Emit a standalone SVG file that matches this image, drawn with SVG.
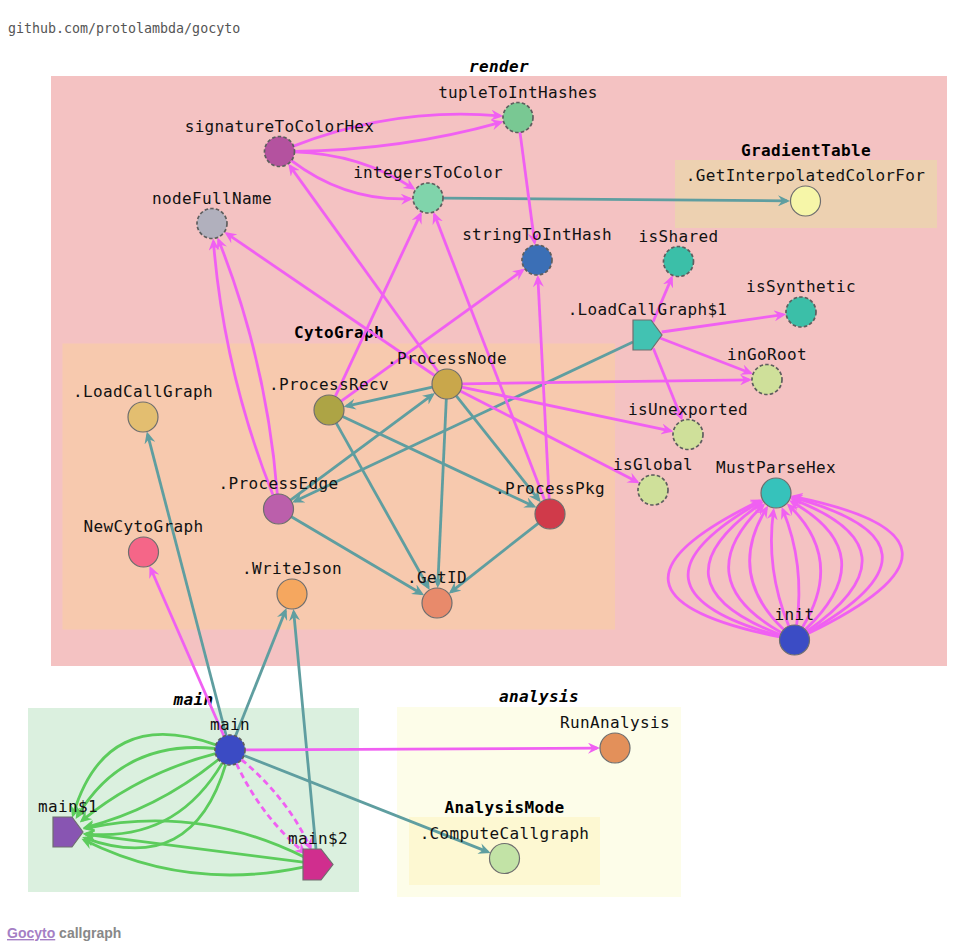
<svg xmlns="http://www.w3.org/2000/svg" width="969" height="952" viewBox="0 0 969 952">
<style>
.lbl{font-family:"DejaVu Sans Mono",monospace;font-size:16px;letter-spacing:0.35px;text-anchor:middle;fill:#111}
.clbl{font-family:"DejaVu Sans Mono",monospace;font-size:16px;letter-spacing:0.35px;font-weight:bold;text-anchor:middle;fill:#000}
.it{font-style:italic}
.solid{stroke:#6e6e6e;stroke-width:1.2}
.dash{stroke:#5e5e5e;stroke-width:1.7;stroke-dasharray:3.5 2.2}
.e{fill:none;stroke-width:2.8}
.mg{stroke:#f060f2;marker-end:url(#am)}
.tl{stroke:#5f9ea0;marker-end:url(#at)}
.gr{stroke:#5ccc5c;marker-end:url(#ag)}
.dsh{stroke-dasharray:6 4}
</style>
<defs>
<marker id="am" viewBox="0 0 12 11" refX="9" refY="5.5" markerWidth="12" markerHeight="11" markerUnits="userSpaceOnUse" orient="auto"><path d="M0,0 L12,5.5 L0,11 L4,5.5 z" fill="#f060f2"/></marker>
<marker id="at" viewBox="0 0 12 11" refX="9" refY="5.5" markerWidth="12" markerHeight="11" markerUnits="userSpaceOnUse" orient="auto"><path d="M0,0 L12,5.5 L0,11 L4,5.5 z" fill="#5f9ea0"/></marker>
<marker id="ag" viewBox="0 0 12 11" refX="9" refY="5.5" markerWidth="12" markerHeight="11" markerUnits="userSpaceOnUse" orient="auto"><path d="M0,0 L12,5.5 L0,11 L4,5.5 z" fill="#5ccc5c"/></marker>
</defs>
<rect width="969" height="952" fill="#fff"/>
<text x="8" y="33" font-family="'DejaVu Sans Mono',monospace" font-size="13.3" fill="#555">github.com/protolambda/gocyto</text>

<g id="clusters">
<g id="c-render"><rect x="51" y="76" width="896" height="590" fill="#f4c2c2"/><text x="499" y="72" class="clbl it">render</text></g>
<g id="c-GradientTable"><rect x="675" y="160" width="262" height="68" fill="#edd1b1"/><text x="806" y="156" class="clbl">GradientTable</text></g>
<g id="c-CytoGraph"><rect x="62.5" y="343.5" width="552.5" height="286" fill="#f7c9ae"/><text x="339" y="338" class="clbl">CytoGraph</text></g>
<g id="c-main"><rect x="28" y="708" width="331" height="184" fill="#dbf0df"/><text x="193.5" y="705" class="clbl it">main</text></g>
<g id="c-analysis"><rect x="397" y="707" width="284" height="190" fill="#fdfde9"/><text x="539" y="702" class="clbl it">analysis</text></g>
<g id="c-AnalysisMode"><rect x="409" y="817" width="191" height="68" fill="#fdf8d2"/><text x="504.5" y="813" class="clbl">AnalysisMode</text></g>
</g>

<g id="connectors">
<path class="e tl" d="M443,198.1 L787,200.9"/>
<path class="e tl" d="M432.3,387.2 L346.6,406.1"/>
<path class="e tl" d="M290.5,500.1 L432.5,394.7"/>
<path class="e tl" d="M633,342 L294.8,501.3"/>
<path class="e tl" d="M342.6,416.4 L533.7,506.3"/>
<path class="e tl" d="M456.3,395.8 L538.8,499.9"/>
<path class="e tl" d="M336.3,423.1 L428.2,587.3"/>
<path class="e tl" d="M446.3,399 L437.8,585"/>
<path class="e tl" d="M538.2,523.3 L451.1,591.9"/>
<path class="e tl" d="M291.4,516.7 L421.5,593.8"/>
<path class="e tl" d="M226.2,735.5 L147.6,434.4"/>
<path class="e tl" d="M235.5,736.1 L285.4,610.7"/>
<path class="e tl" d="M316,849 L293.7,611.9"/>
<path class="e tl" d="M244,755.5 L487.8,851.9"/>

<path class="e mg" d="M520,132.4 L534.6,242.2"/>
<path class="e mg" d="M434.6,375.5 L226.9,233.7"/>
<path class="e mg" d="M438.2,371.8 L290,166.1"/>
<path class="e mg" d="M335.3,396.4 L420.4,214.3"/>
<path class="e mg" d="M544.6,500 L434.5,214.8"/>
<path class="e mg" d="M341.2,401.2 L522.4,270.5"/>
<path class="e mg" d="M549.2,499 L537.9,278"/>
<path class="e mg" d="M462,383.8 L749,379.8"/>
<path class="e mg" d="M461.7,387.1 L670.4,430.8"/>
<path class="e mg" d="M460.3,390.9 L637,481.8"/>
<path class="e mg" d="M653,322 L671.5,278.1"/>
<path class="e mg" d="M661.7,332 L783.2,314.6"/>
<path class="e mg" d="M660,338 L750.2,373"/>
<path class="e mg" d="M653.3,348.3 L681.3,417.8"/>
<path class="e mg" d="M224,736.3 L150.7,568.5"/>
<path class="e mg" d="M245,749.9 L597,748.1"/>

<path class="e mg" d="M293.5,146.1 Q394.8,106.8 500.1,115.9"/>
<path class="e mg" d="M294.5,151.4 Q401,150.3 500.7,122.4"/>
<path class="e mg" d="M294.5,151.9 Q360.3,153.8 412.9,188.2"/>
<path class="e mg" d="M291.5,160.6 Q345.4,201.5 410,198.8"/>
<path class="e mg" d="M273,495.1 Q223.8,371.2 213.4,241.4"/>
<path class="e mg" d="M277.3,494 Q266.7,361.3 218.6,240.2"/>

<path class="e mg" d="M796.6,625.1 Q805.09,564 782.8,509.7"/>
<path class="e mg" d="M788.8,626.1 Q765.41,569 773.5,510.8"/>
<path class="e mg" d="M802.4,627.3 Q844.77,559 789,505.5"/>
<path class="e mg" d="M783.7,629.6 Q725.73,574 766.5,508.3"/>
<path class="e mg" d="M805.3,629.6 Q884.45,554 791.7,501.8"/>
<path class="e mg" d="M781.4,632.6 Q686.05,579 763,505.4"/>
<path class="e mg" d="M806.8,631.4 Q924.13,549 792.8,499.4"/>
<path class="e mg" d="M780.5,634.7 Q646.37,584 761.3,503.3"/>
<path class="e mg" d="M807.6,632.6 Q963.81,544 793.4,497.7"/>
<path class="e mg" d="M780,636.1 Q606.69,589 760.3,501.9"/>
<path class="e mg" d="M808,633.5 Q1003.49,539 793.6,496.6"/>
<path class="e mg" d="M779.8,637 Q567.01,594 759.8,500.8"/>

<path class="e mg dsh" d="M241.5,759.6 Q286.7,797.2 310.4,847.7"/>
<path class="e mg dsh" d="M236.4,763.6 Q261.3,816.8 304.2,852.5"/>

<path class="e gr" d="M215.9,744.9 Q105.6,705.4 73.1,814.8"/>
<path class="e gr" d="M215.1,748.5 Q122.8,739.3 77.2,816.5"/>
<path class="e gr" d="M215.5,753.7 Q140,773.2 82,820.6"/>
<path class="e gr" d="M218.4,759.5 Q158,808.8 85.4,827.5"/>
<path class="e gr" d="M222.4,762.9 Q175.2,842.7 85.9,833.8"/>
<path class="e gr" d="M225.7,764.4 Q192.4,876.6 84.9,838.1"/>
<path class="e gr" d="M304.6,857.3 Q198.6,804.4 85.6,828.3"/>
<path class="e gr" d="M303.1,862.1 L85.9,834.3"/>
<path class="e gr" d="M303.3,867.1 Q187.4,891.6 84.1,840"/>
</g>

<g id="nodes">
<g id="n-tupleToIntHashes"><circle cx="518" cy="117.5" r="15" class="dash" fill="#79c893"/><text x="518" y="97.5" class="lbl">tupleToIntHashes</text></g>
<g id="n-signatureToColorHex"><circle cx="279.5" cy="151.5" r="15" class="dash" fill="#b4529f"/><text x="279.5" y="131.5" class="lbl">signatureToColorHex</text></g>
<g id="n-integersToColor"><circle cx="428" cy="198" r="15" class="dash" fill="#80d4ab"/><text x="428" y="178" class="lbl">integersToColor</text></g>
<g id="n-nodeFullName"><circle cx="212" cy="223.5" r="15" class="dash" fill="#b1b0bd"/><text x="212" y="203.5" class="lbl">nodeFullName</text></g>
<g id="n-stringToIntHash"><circle cx="537" cy="260" r="15" class="dash" fill="#3b6fb6"/><text x="537" y="240" class="lbl">stringToIntHash</text></g>
<g id="n-GetInterpolatedColorFor"><circle cx="805.5" cy="201" r="15" class="solid" fill="#f6f6a8"/><text x="805.5" y="181" class="lbl">.GetInterpolatedColorFor</text></g>
<g id="n-isShared"><circle cx="678.5" cy="261.5" r="15" class="dash" fill="#3bbfa8"/><text x="678.5" y="241.5" class="lbl">isShared</text></g>
<g id="n-isSynthetic"><circle cx="801" cy="312" r="15" class="dash" fill="#3bbfa8"/><text x="801" y="292" class="lbl">isSynthetic</text></g>
<g id="n-LoadCallGraph1"><polygon points="633,320 651,320 662,335 651,350 633,350" class="solid" fill="#42c2b2"/><text x="647.5" y="315" class="lbl">.LoadCallGraph$1</text></g>
<g id="n-inGoRoot"><circle cx="767" cy="379.5" r="15" class="dash" fill="#cfe09a"/><text x="767" y="359.5" class="lbl">inGoRoot</text></g>
<g id="n-isUnexported"><circle cx="688" cy="434.5" r="15" class="dash" fill="#cfe09a"/><text x="688" y="414.5" class="lbl">isUnexported</text></g>
<g id="n-isGlobal"><circle cx="653" cy="490" r="15" class="dash" fill="#cfe09a"/><text x="653" y="470" class="lbl">isGlobal</text></g>
<g id="n-MustParseHex"><circle cx="776" cy="493" r="15" class="solid" fill="#36c2bb"/><text x="776" y="473" class="lbl">MustParseHex</text></g>
<g id="n-init"><circle cx="794.5" cy="640" r="15" class="solid" fill="#3b4cc5"/><text x="794.5" y="620" class="lbl">init</text></g>
<g id="n-ProcessNode"><circle cx="447" cy="384" r="15" class="solid" fill="#c9a74b"/><text x="447" y="364" class="lbl">.ProcessNode</text></g>
<g id="n-ProcessRecv"><circle cx="329" cy="410" r="15" class="solid" fill="#ada445"/><text x="329" y="390" class="lbl">.ProcessRecv</text></g>
<g id="n-LoadCallGraph"><circle cx="143" cy="417" r="15" class="solid" fill="#e3be70"/><text x="143" y="397" class="lbl">.LoadCallGraph</text></g>
<g id="n-ProcessEdge"><circle cx="278.5" cy="509" r="15" class="solid" fill="#bb5fab"/><text x="278.5" y="489" class="lbl">.ProcessEdge</text></g>
<g id="n-ProcessPkg"><circle cx="550" cy="514" r="15" class="solid" fill="#d03a4a"/><text x="550" y="494" class="lbl">.ProcessPkg</text></g>
<g id="n-NewCytoGraph"><circle cx="143.5" cy="552" r="15" class="solid" fill="#f56688"/><text x="143.5" y="532" class="lbl">NewCytoGraph</text></g>
<g id="n-WriteJson"><circle cx="292" cy="594" r="15" class="solid" fill="#f5a75f"/><text x="292" y="574" class="lbl">.WriteJson</text></g>
<g id="n-GetID"><circle cx="437" cy="603" r="15" class="solid" fill="#e88a6b"/><text x="437" y="583" class="lbl">.GetID</text></g>
<g id="n-main"><circle cx="230" cy="750" r="15" class="dash" fill="#3b4bc4"/><text x="230" y="730" class="lbl">main</text></g>
<g id="n-main1"><polygon points="53,817 72,817 83,832 72,847 53,847" class="solid" fill="#8855b2"/><text x="68" y="812" class="lbl">main$1</text></g>
<g id="n-main2"><polygon points="303,849 321,849 333,864.5 321,880 303,880" class="solid" fill="#d02e8e"/><text x="318" y="844" class="lbl">main$2</text></g>
<g id="n-RunAnalysis"><circle cx="615" cy="748" r="15" class="solid" fill="#e3905a"/><text x="615" y="728" class="lbl">RunAnalysis</text></g>
<g id="n-ComputeCallgraph"><circle cx="504.5" cy="858.5" r="15" class="solid" fill="#c2e3a6"/><text x="504.5" y="838.5" class="lbl">.ComputeCallgraph</text></g>
</g>

<text x="7" y="938" font-family="'Liberation Sans',Arial,sans-serif" font-size="14" font-weight="bold"><tspan fill="#a57fc5" text-decoration="underline">Gocyto</tspan><tspan fill="#888"> callgraph</tspan></text>
</svg>
